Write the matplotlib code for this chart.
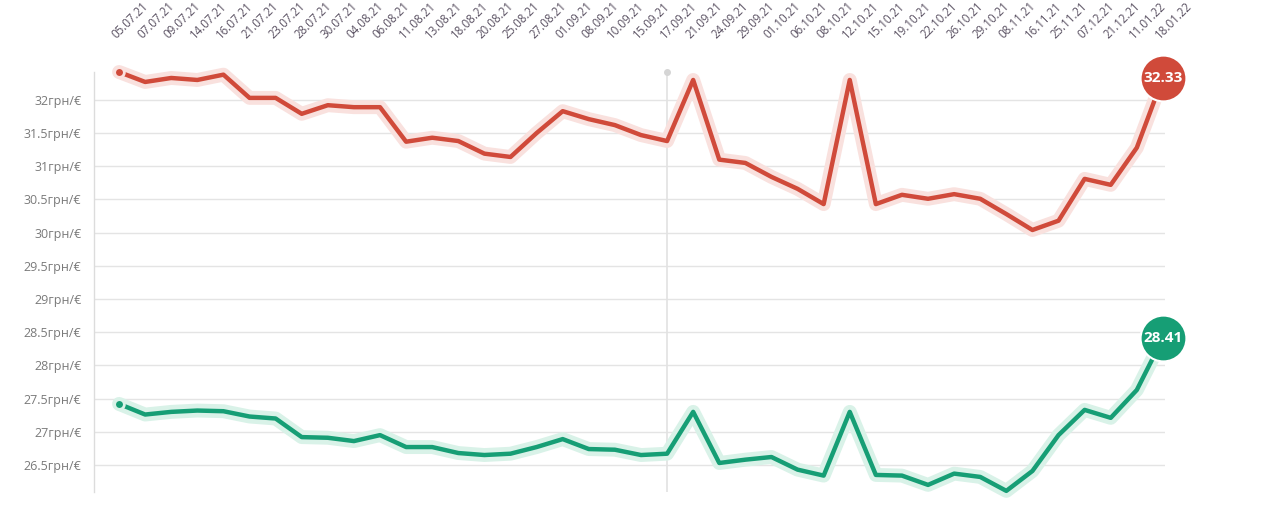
import matplotlib
matplotlib.use("Agg")
import matplotlib.pyplot as plt

dates = ["05.07.21", "07.07.21", "09.07.21", "14.07.21", "16.07.21", "21.07.21", "23.07.21",
         "28.07.21", "30.07.21", "04.08.21", "06.08.21", "11.08.21", "13.08.21", "18.08.21",
         "20.08.21", "25.08.21", "27.08.21", "01.09.21", "08.09.21", "10.09.21", "15.09.21",
         "17.09.21", "21.09.21", "24.09.21", "29.09.21", "01.10.21", "06.10.21", "08.10.21",
         "12.10.21", "15.10.21", "19.10.21", "22.10.21", "26.10.21", "29.10.21", "08.11.21",
         "16.11.21", "25.11.21", "07.12.21", "21.12.21", "11.01.22", "18.01.22"]

sell = [32.42, 32.27, 32.33, 32.30, 32.38, 32.03, 32.03, 31.79, 31.92, 31.89, 31.89,
        31.37, 31.43, 31.38, 31.19, 31.14, 31.50, 31.83, 31.71, 31.62, 31.47, 31.38,
        32.30, 31.10, 31.05, 30.84, 30.66, 30.43, 32.30, 30.43, 30.57, 30.51, 30.58,
        30.51, 30.28, 30.04, 30.18, 30.81, 30.72, 31.28, 32.33]

buy = [27.42, 27.26, 27.30, 27.32, 27.31, 27.23, 27.20, 26.92, 26.91, 26.86, 26.95,
       26.77, 26.77, 26.68, 26.65, 26.67, 26.77, 26.89, 26.74, 26.73, 26.65, 26.67,
       27.30, 26.53, 26.58, 26.62, 26.43, 26.34, 27.30, 26.35, 26.34, 26.20, 26.37,
       26.32, 26.11, 26.41, 26.95, 27.33, 27.21, 27.63, 28.41]

yticks = [26.5, 27, 27.5, 28, 28.5, 29, 29.5, 30, 30.5, 31, 31.5, 32]
highlight_index = 21

RED = "#d04a3a"
RED_HALO = "#f9e1de"
GREEN = "#169e75"
GREEN_HALO = "#d9f2e8"

plt.rcParams['font.family'] = ['Open Sans', 'DejaVu Sans']

fig = plt.figure(figsize=(12.8, 5.16), dpi=100)
ax = fig.add_axes([94/1280, 1 - 492/516, (1165 - 94)/1280, (492 - 72)/516])

x = list(range(len(dates)))
ax.set_xlim(-0.96, 40.08)
ax.set_ylim(26.093, 32.42)

for s in ["top", "right", "bottom"]:
    ax.spines[s].set_visible(False)
ax.spines["left"].set_color("#dcdcdc")
ax.spines["left"].set_linewidth(1)

ax.set_yticks(yticks)
ax.set_yticklabels([f"{v:g}грн/€" for v in yticks])
ax.tick_params(axis="y", length=0, pad=9, labelsize=9, labelcolor="#7a7a7a")
ax.set_xticks([])
ax.grid(axis="y", color="#e4e4e4", linewidth=1)
ax.set_axisbelow(True)

# crosshair
ax.axvline(highlight_index, color="#e2e2e2", linewidth=1.2, zorder=1)
ax.plot([highlight_index], [32.42], "o", color="#d5d5d5", markersize=4, clip_on=False, zorder=2)

for vals, col, halo in [(sell, RED, RED_HALO), (buy, GREEN, GREEN_HALO)]:
    ax.plot(x, vals, color=halo, linewidth=10, solid_joinstyle="round",
            solid_capstyle="round", clip_on=False, zorder=3)
    ax.plot(x, vals, color=col, linewidth=3.2, solid_joinstyle="round",
            clip_on=False, zorder=4)
    ax.plot([x[0]], [vals[0]], "o", color=col, markersize=7, markeredgecolor=halo,
            markeredgewidth=2, clip_on=False, zorder=5)
    ax.plot([x[-1]], [vals[-1]], "o", color=col, markersize=33, markeredgecolor="white",
            markeredgewidth=1.5, clip_on=False, zorder=6)
    ax.text(x[-1], vals[-1], f"{vals[-1]:.2f}", color="white", fontsize=11,
            fontweight="bold", ha="center", va="center", zorder=7)

for i, d in enumerate(dates):
    ax.text(i - 0.1, 1.078, d, transform=ax.get_xaxis_transform(), rotation=45,
            rotation_mode="anchor", ha="left", va="baseline", fontsize=8.3,
            color="#5b5263")

fig.savefig("out.png", dpi=100)
